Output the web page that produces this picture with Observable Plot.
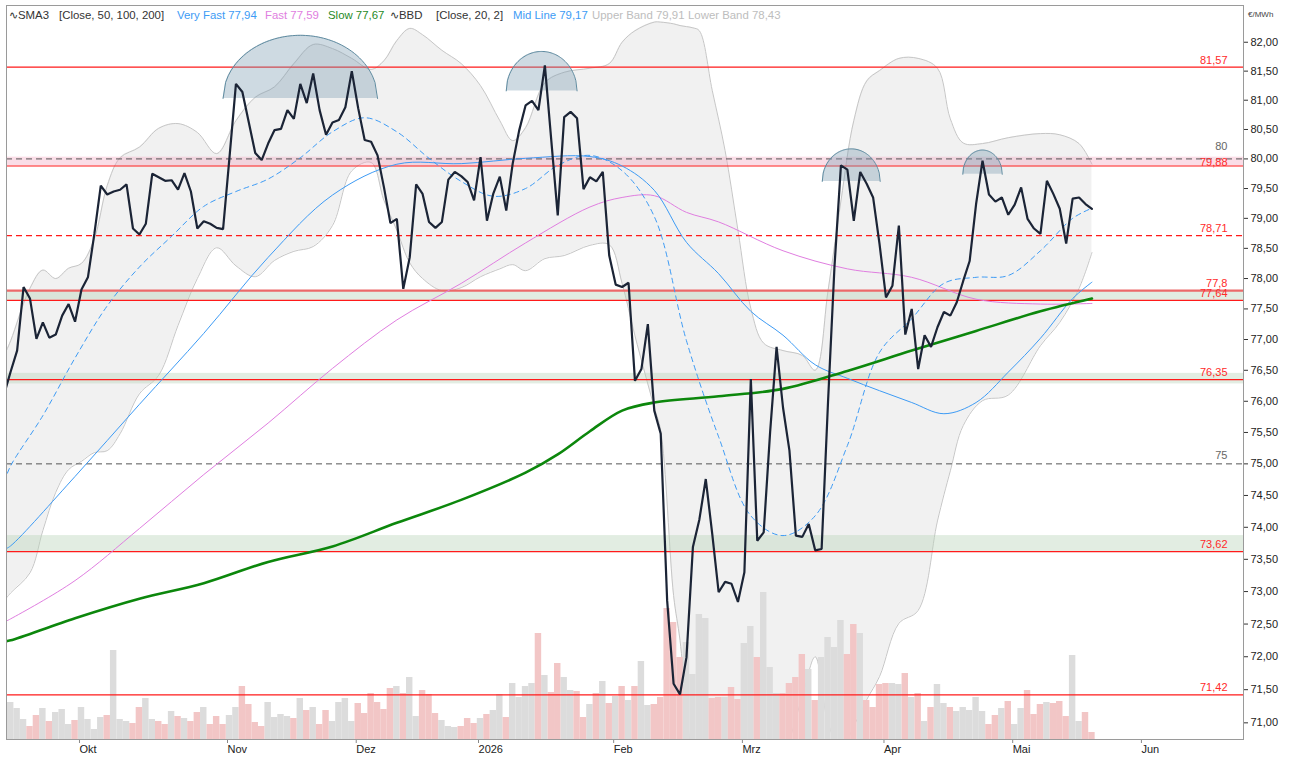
<!DOCTYPE html>
<html><head><meta charset="utf-8">
<script src="https://cdn.jsdelivr.net/npm/d3@7"></script>
<script src="https://cdn.jsdelivr.net/npm/@observablehq/plot@0.6"></script>
<style>
html,body{margin:0;padding:0;background:#fff;}
#wrap{position:relative;width:1295px;height:762px;overflow:hidden;font-family:"Liberation Sans",Arial,sans-serif;}
#wrap svg{position:absolute;left:0;top:0;}
.lg{position:absolute;top:8px;font-size:11.4px;line-height:14px;white-space:nowrap;color:#333;}
</style></head><body>
<div id="wrap"></div>
<script>
// ---------- DATA ----------
// x positions are trading-day indices (bar 0 = 16 Sep 2025)
const priceStart = -1;
const price = [76.12,
 76.48,76.82,77.86,77.67,77.01,77.28,77.03,77.08,77.39,77.58,
 77.29,77.82,78.02,78.74,79.55,79.40,79.45,79.48,79.57,78.83,
 78.73,78.91,79.75,79.69,79.63,79.64,79.48,79.76,79.45,78.83,
 78.95,78.91,78.84,78.82,80.03,81.28,81.14,80.62,80.10,79.98,
 80.26,80.49,80.51,80.83,80.68,81.28,80.95,81.46,80.83,80.41,
 80.62,80.66,80.88,81.50,80.86,80.32,80.29,80.06,79.52,78.92,
 78.99,77.83,78.35,79.57,79.41,78.94,78.84,78.94,79.65,79.78,
 79.71,79.61,79.30,80.03,78.96,79.42,79.70,79.13,79.92,80.48,
 80.91,80.99,80.83,81.60,80.31,79.05,80.71,80.80,80.69,79.49,
 79.69,79.62,79.78,78.38,77.90,77.86,77.93,76.33,76.52,77.25,
 75.85,75.48,72.86,71.59,71.43,71.99,73.69,74.12,74.76,73.90,
 72.99,73.15,73.12,72.84,73.30,76.36,73.79,73.92,75.51,76.88,
 75.90,75.21,73.87,73.85,74.05,73.64,73.66,76.00,78.20,79.89,
 79.82,78.96,79.78,79.58,79.35,78.57,77.69,77.88,78.88,77.08,
 77.50,76.52,77.07,76.88,77.20,77.45,77.39,77.61,77.96,78.29,
 79.24,79.97,79.40,79.28,79.35,79.06,79.23,79.52,78.99,78.83,
 78.74,79.63,79.41,79.16,78.58,79.33,79.35,79.24,79.16];

const volume = [37,31,20,13,24,31,18,27,30,15,
 19,32,20,10,22,24,89,20,18,16,
 32,41,20,18,15,28,23,21,18,27,
 32,15,23,15,24,32,53,35,17,13,
 37,22,25,23,21,41,29,32,15,29,
 18,37,41,18,36,26,46,37,30,51,
 53,46,62,23,49,45,26,19,13,12,
 13,21,16,21,25,29,45,22,56,42,
 53,56,106,64,47,76,62,49,48,22,
 35,46,58,36,43,53,39,53,78,34,
 35,42,131,117,82,97,65,125,121,41,
 42,42,52,40,96,113,82,147,72,46,
 46,56,62,85,70,39,82,102,92,119,
 85,115,106,39,32,55,56,56,55,66,
 42,46,18,32,55,36,32,28,32,29,
 42,28,15,24,31,38,15,31,49,25,
 35,37,36,38,23,84,18,27,7];
const volSide = "uuudduduuu"+"duuuuduuud"+"duuddududd"+"uddduudddd"+"uuuudududd"+
 "uuuudddddd"+"uduuddduuu"+"ddduduuduu"+"uududduudd"+"ududududuu"+
 "ddddduuuud"+"dudduuduuu"+"dddduduuuu"+"ddudddduud"+"ududuuduuu"+
 "uudduduudd"+"duddduudd";

const bandIdx = [-1,0,3,5,7,9,11,13,15,17,20,23,26,29,32,35,38,41,44,47,50,53,56,58,60,62,64,67,70,73,
 76,78,80,83,86,90,93,95,97,100,101,103,104,106,107,109,111,113,115,117,120,123,125,127,129,131,133,135,138,141,
 144,146,148,151,155,160,163,166,168];
const bandUpper = [76.74,76.98,77.84,78.14,78.00,78.17,78.25,78.66,79.55,80.02,
 80.20,80.52,80.60,80.45,80.09,80.65,81.05,81.23,81.63,81.96,
 81.89,81.72,81.53,81.68,82.03,82.24,82.13,81.86,81.63,81.25,
 80.65,80.31,80.53,81.30,81.48,81.55,81.63,82.00,82.20,82.35,
 82.35,82.32,82.29,82.25,82.20,81.17,80.14,78.80,77.51,76.94,
 76.82,76.74,76.50,77.80,79.29,80.65,81.33,81.51,81.72,81.72,
 81.55,80.68,80.27,80.26,80.36,80.43,80.41,80.26,79.91];
const bandLower = [72.86,72.98,73.29,73.95,74.55,74.91,75.04,75.18,75.21,75.48,
 76.12,76.42,77.23,78.00,78.51,78.21,78.03,78.30,78.45,78.53,
 78.88,79.80,79.94,79.30,78.80,78.26,78.00,77.80,77.85,78.03,
 78.16,78.23,78.13,78.33,78.38,78.55,78.56,77.92,77.06,75.90,
 75.53,72.94,72.25,70.40,70.10,69.80,69.60,69.60,69.70,70.10,
 70.50,71.40,72.00,71.00,70.60,70.95,71.35,71.70,72.51,72.71,
 74.10,74.89,75.61,76.01,76.10,76.90,77.28,77.84,78.43];

const midIdx = [-1,0,5,10,15,20,25,30,35,40,45,50,55,60,65,70,75,80,85,90,95,100,105,110,115,120,125,130,135,140,145,150,155,160,165,168];
const midLine = [74.72,74.97,75.77,76.70,77.55,78.19,78.70,79.20,79.45,79.66,80.02,80.46,80.70,80.46,80.01,79.62,79.37,79.50,79.89,80.06,
 79.80,79.03,76.98,75.43,74.18,73.87,74.18,75.29,76.79,77.34,77.92,78.02,78.05,78.46,79.00,79.17];

const sma50Idx = [-1,0,10,20,30,40,50,60,70,80,90,95,100,105,110,115,120,125,130,135,140,145,150,155,160,165,168];
const sma50 = [73.65,73.71,74.80,75.95,77.10,78.35,79.39,79.91,79.92,80.01,80.04,79.88,79.47,78.60,78.08,77.46,77.07,76.59,76.37,76.17,75.98,75.80,75.98,76.47,77.02,77.67,77.94];

const sma100Idx = [-1,0,10,20,30,40,50,60,70,80,90,95,100,105,110,120,130,140,150,160,168];
const sma100 = [72.53,72.58,73.17,73.98,74.83,75.65,76.53,77.32,77.92,78.59,79.19,79.35,79.38,79.10,78.94,78.46,78.16,78.02,77.66,77.58,77.59];

const sma200Idx = [-1,0,10,20,30,40,50,60,70,80,85,90,95,100,110,120,130,140,150,160,168];
const sma200 = [72.23,72.25,72.59,72.89,73.13,73.46,73.70,74.07,74.43,74.86,75.15,75.52,75.85,75.98,76.08,76.20,76.49,76.82,77.14,77.46,77.67];

const levelValue = [81.57, 80, 79.88, 78.71, 77.8, 77.64, 76.35, 75, 73.62, 71.42];
const levelLabel = ["81,57","80","79,88","78,71","77,8","77,64","76,35","75","73,62","71,42"];
const levelKind  = ["solid","grey","solid","dash","thick","solid","solid","grey","solid","solid"];

const greenZoneLo = [77.64, 76.28, 73.62];
const greenZoneHi = [77.80, 76.45, 73.87];
const pinkZoneLo = [79.88];
const pinkZoneHi = [80.03];

const domeCenter = [45.0, 82.5, 130.6, 151.0];
const domeHalf   = [12.0, 5.5, 4.5, 3.06];
const domeBase   = [81.03, 81.16, 79.62, 79.74];
const domeTop    = [82.12, 81.84, 80.17, 80.15];

const monthIdx = [11,34,54,73,94,114,136,156,176];
const monthLabel = ["Okt","Nov","Dez","2026","Feb","Mrz","Apr","Mai","Jun"];
const yTicks = [71,71.5,72,72.5,73,73.5,74,74.5,75,75.5,76,76.5,77,77.5,78,78.5,79,79.5,80,80.5,81,81.5,82];

const legendItems = [
 {x:9,   t:"\u223FSMA3", c:"#333"},
 {x:59,  t:"[Close, 50, 100, 200]", c:"#333"},
 {x:177, t:"Very Fast 77,94", c:"#3d9bf5"},
 {x:265, t:"Fast 77,59", c:"#e07ee0"},
 {x:328, t:"Slow 77,67", c:"#1f8a1f"},
 {x:390, t:"\u223FBBD", c:"#333"},
 {x:436, t:"[Close, 20, 2]", c:"#333"},
 {x:513, t:"Mid Line 79,17", c:"#3d9bf5"},
 {x:592, t:"Upper Band 79,91", c:"#bdbdbd"},
 {x:688, t:"Lower Band 78,43", c:"#bdbdbd"}
];

// ---------- BUILD ----------
const wrap = document.getElementById("wrap");
const W = 1295, H = 762;
const frame = {width:W, height:H, marginLeft:6, marginRight:52, marginTop:5, marginBottom:23};
const xDom = [-0.65, 191.55];
const yLog = {type:"log", domain:[70.75, 82.64]};
const style = {background:"transparent", fontFamily:"'Liberation Sans', Arial, sans-serif", fontSize:"11px", color:"#222", overflow:"visible"};

const priceData = price.map((v,k)=>({i:k+priceStart, v}));
const volData = volume.map((v,k)=>({i:k, v, up: volSide[k]==="u"}));
const band = bandIdx.map((i,k)=>({i, hi:bandUpper[k], lo:bandLower[k]}));
const series = (idx, vals) => idx.map((i,k)=>({i, v:vals[k]}));
const greenZones = greenZoneLo.map((lo,k)=>({lo, hi:greenZoneHi[k]}));
const pinkZones = pinkZoneLo.map((lo,k)=>({lo, hi:pinkZoneHi[k]}));
const levels = levelValue.map((v,k)=>({v, label:levelLabel[k], kind:levelKind[k]}));

const domePts = [];
domeCenter.forEach((c,k)=>{
  const lb = Math.log(domeBase[k]), lt = Math.log(domeTop[k]);
  for (let s=0; s<=60; s++){
    const t = -1 + s/30;
    domePts.push({k, x:c + domeHalf[k]*t, b:domeBase[k], y:Math.exp(lb + (lt-lb)*Math.sqrt(Math.max(0,1-t*t)))});
  }
});

// layer 1: Bollinger band
const layerBand = Plot.plot({...frame, style:{...style, background:"#fff"},
  x:{domain:xDom, axis:null}, y:{...yLog, axis:null},
  marks:[
    Plot.areaY(band,{x:"i", y1:"lo", y2:"hi", fill:"#f1f1f1", curve:"catmull-rom", clip:true}),
    Plot.line(band,{x:"i", y:"hi", stroke:"#c6c6c6", strokeWidth:1, curve:"catmull-rom", clip:true}),
    Plot.line(band,{x:"i", y:"lo", stroke:"#c6c6c6", strokeWidth:1, curve:"catmull-rom", clip:true})
  ]});

// layer 2: volume
const layerVol = Plot.plot({...frame, style,
  x:{domain:xDom, axis:null}, y:{domain:[0,734], axis:null},
  marks:[
    Plot.rect(volData.filter(d=>d.up),{x1:d=>d.i-0.5, x2:d=>d.i+0.5, y1:0, y2:"v", fill:"#dcdcdc"}),
    Plot.rect(volData.filter(d=>!d.up),{x1:d=>d.i-0.5, x2:d=>d.i+0.5, y1:0, y2:"v", fill:"#f2c6c6"})
  ]});

// layer 3: everything else
const layerMain = Plot.plot({...frame, style,
  x:{domain:xDom}, y:{...yLog},
  marks:[
    Plot.barY(greenZones,{y1:"lo", y2:"hi", fill:"#b9d4b9", fillOpacity:0.42}),
    Plot.barY(pinkZones,{y1:"lo", y2:"hi", fill:"#f3a6c0", fillOpacity:0.38}),
    Plot.ruleY(levels.filter(d=>d.kind==="grey"),{y:"v", stroke:"#555", strokeDasharray:"6,4", strokeWidth:1}),
    Plot.ruleY(levels.filter(d=>d.kind==="dash"),{y:"v", stroke:"#ff1a1a", strokeDasharray:"6,4", strokeWidth:1.2}),
    Plot.ruleY(levels.filter(d=>d.kind==="solid"),{y:"v", stroke:"#ff1a1a", strokeWidth:1.2}),
    Plot.ruleY(levels.filter(d=>d.kind==="thick"),{y:"v", stroke:"#ec6a6a", strokeWidth:2.2}),
    Plot.areaY(domePts,{x:"x", y1:"b", y2:"y", z:"k", fill:"#7f9fb3", fillOpacity:0.38}),
    Plot.line(domePts,{x:"x", y:"y", z:"k", stroke:"#5f8ba0", strokeWidth:1}),
    Plot.line(series(sma100Idx,sma100),{x:"i", y:"v", stroke:"#e07ee0", strokeWidth:1, curve:"catmull-rom", clip:true}),
    Plot.line(series(sma50Idx,sma50),{x:"i", y:"v", stroke:"#3d9bf5", strokeWidth:1, curve:"catmull-rom", clip:true}),
    Plot.line(series(midIdx,midLine),{x:"i", y:"v", stroke:"#3d9bf5", strokeWidth:1, strokeDasharray:"5,4", curve:"catmull-rom", clip:true}),
    Plot.line(series(sma200Idx,sma200),{x:"i", y:"v", stroke:"#0c870c", strokeWidth:2.6, curve:"catmull-rom", clip:true}),
    Plot.line(priceData,{x:"i", y:"v", stroke:"#1b2436", strokeWidth:2.2, strokeLinejoin:"miter", clip:true}),
    Plot.text(levels.filter(d=>d.kind!=="grey" && d.v!==79.88),{y:"v", text:"label", frameAnchor:"right", dx:-16, dy:-7, textAnchor:"end", fill:"#ff2a2a", fontSize:11}),
    Plot.text(levels.filter(d=>d.v===79.88),{y:"v", text:"label", frameAnchor:"right", dx:-16, dy:-4, textAnchor:"end", fill:"#ff2a2a", fontSize:11}),
    Plot.text(levels.filter(d=>d.kind==="grey" && d.v!==80),{y:"v", text:"label", frameAnchor:"right", dx:-16, dy:-8, textAnchor:"end", fill:"#666", fontSize:11}),
    Plot.text(levels.filter(d=>d.v===80),{y:"v", text:"label", frameAnchor:"right", dx:-16, dy:-12, textAnchor:"end", fill:"#666", fontSize:11}),
    Plot.axisY({ticks:yTicks, anchor:"right", tickFormat:d=>d.toFixed(2).replace(".", ","), tickSize:4, tickPadding:3, label:null, stroke:"#333", fill:"#222", fontSize:11}),
    Plot.axisX({ticks:monthIdx, tickFormat:d=>monthLabel[monthIdx.indexOf(d)], tickSize:4, tickPadding:2, textAnchor:"start", dx:-2, label:null, stroke:"#888", fill:"#222", fontSize:11}),
    Plot.frame({stroke:"#9a9a9a"})
  ]});

wrap.appendChild(layerBand);
wrap.appendChild(layerVol);
wrap.appendChild(layerMain);

for (const it of legendItems){
  const s = document.createElement("div");
  s.className = "lg"; s.style.left = it.x+"px"; s.style.color = it.c; s.textContent = it.t;
  wrap.appendChild(s);
}
const unit = document.createElement("div");
unit.textContent = "\u20AC/MWh";
unit.style.cssText = "position:absolute;left:1248px;top:10px;font-size:8px;color:#444;white-space:nowrap;";
wrap.appendChild(unit);
</script>
</body></html>
